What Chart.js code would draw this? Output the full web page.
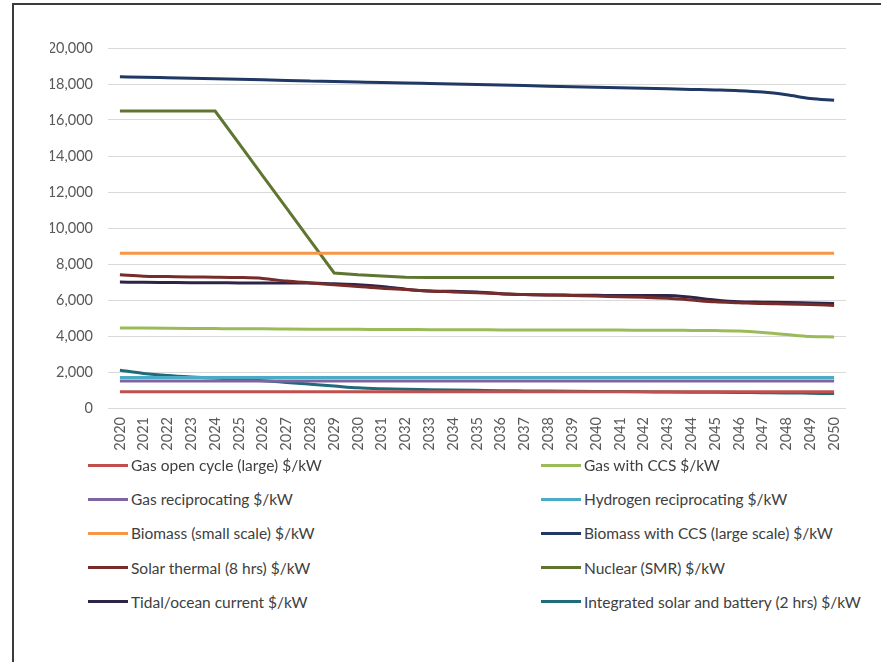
<!DOCTYPE html>
<html>
<head>
<meta charset="utf-8">
<script src="https://cdn.jsdelivr.net/npm/chart.js@4/dist/chart.umd.min.js"></script>
<style>
  html, body { margin: 0; padding: 0; background: #fff; }
  body { width: 881px; height: 662px; position: relative; overflow: hidden; font-family: Lato, "Open Sans", sans-serif; }
  .frame { position: absolute; left: 12px; top: 3px; width: 900px; height: 700px;
           border-left: 2px solid #3a3a3a; border-top: 2px solid #3a3a3a; box-sizing: border-box; }
  .wrap { position: absolute; left: 0; top: 0; width: 881px; height: 460px; }
  #legend { position: absolute; left: 88px; top: 456px; width: 790px; }
  .item { position: absolute; display: flex; align-items: center; font-size: 15.5px; color: #404040; white-space: nowrap; }
  .item .ln { width: 40px; height: 3px; margin-right: 3px; }
</style>
</head>
<body>
<div class="frame"></div>
<div class="wrap"><canvas id="c"></canvas></div>
<div id="legend"></div>
<script>
// Years on the category axis
const years = [];
for (let y = 2020; y <= 2050; y++) years.push(String(y));

// Capital cost by technology, $/kW
const gasOpenCycle = [900,900,900,900,900,900,900,900,900,900,900,900,900,900,900,900,900,900,900,900,900,900,900,900,900,900,900,900,900,900,900];
const gasWithCcs = [4450,4440,4430,4420,4410,4400,4400,4390,4380,4370,4370,4360,4360,4350,4350,4350,4340,4340,4340,4330,4330,4330,4320,4320,4310,4300,4280,4200,4080,3970,3950];
const gasRecip = [1500,1500,1500,1500,1500,1500,1500,1500,1500,1500,1500,1500,1500,1500,1500,1500,1500,1500,1500,1500,1500,1500,1500,1500,1500,1500,1500,1500,1500,1500,1500];
const hydrogenRecip = [1700,1700,1700,1700,1700,1700,1700,1700,1700,1700,1700,1700,1700,1700,1700,1700,1700,1700,1700,1700,1700,1700,1700,1700,1700,1700,1700,1700,1700,1700,1700];
const biomassSmall = [8600,8600,8600,8600,8600,8600,8600,8600,8600,8600,8600,8600,8600,8600,8600,8600,8600,8600,8600,8600,8600,8600,8600,8600,8600,8600,8600,8600,8600,8600,8600];
const biomassCcs = [18400,18380,18350,18320,18290,18260,18230,18200,18170,18140,18110,18080,18060,18030,18000,17970,17940,17910,17880,17850,17820,17790,17760,17730,17700,17670,17630,17550,17400,17200,17100];
const solarThermal = [7400,7320,7300,7280,7270,7250,7200,7050,6950,6850,6750,6650,6580,6500,6450,6400,6350,6300,6280,6250,6220,6180,6150,6100,6000,5900,5850,5800,5780,5750,5700];
const nuclearSmr = [16500,16500,16500,16500,16500,14700,12900,11100,9300,7500,7400,7330,7270,7250,7250,7250,7250,7250,7250,7250,7250,7250,7250,7250,7250,7250,7250,7250,7250,7250,7250];
const tidal = [7000,6980,6970,6960,6960,6950,6950,6950,6940,6900,6850,6750,6600,6500,6480,6450,6350,6300,6280,6270,6260,6250,6250,6250,6150,6000,5900,5880,5860,5830,5800];
const solarBattery = [2100,1920,1800,1720,1660,1600,1520,1420,1320,1220,1120,1070,1040,1020,1000,980,960,950,940,930,920,910,900,890,880,870,860,850,840,820,800];

const seriesNames = [
  'Gas open cycle (large) $/kW', 'Gas with CCS $/kW',
  'Gas reciprocating $/kW', 'Hydrogen reciprocating $/kW',
  'Biomass (small scale) $/kW', 'Biomass with CCS (large scale) $/kW',
  'Solar thermal (8 hrs) $/kW', 'Nuclear (SMR) $/kW',
  'Tidal/ocean current $/kW', 'Integrated solar and battery (2 hrs) $/kW'
];
const seriesValues = [gasOpenCycle, gasWithCcs, gasRecip, hydrogenRecip, biomassSmall,
  biomassCcs, solarThermal, nuclearSmr, tidal, solarBattery];
const seriesColors = ['#C0504D', '#9BBB59', '#8064A2', '#4BACC6', '#F79646',
  '#1F3864', '#772C2A', '#5F7530', '#2E2448', '#216A7A'];

const datasets = seriesNames.map((name, i) => ({
  label: name,
  data: seriesValues[i],
  borderColor: seriesColors[i],
  backgroundColor: seriesColors[i],
  borderWidth: 3,
  pointRadius: 0,
  // the nuclear series has straight segments with sharp bends
  cubicInterpolationMode: seriesValues[i] === nuclearSmr ? 'default' : 'monotone',
  tension: 0,
  fill: false
}));

const tickFont = { family: 'Lato, "Open Sans", sans-serif', size: 14.5 };

new Chart(document.getElementById('c'), {
  type: 'line',
  data: { labels: years, datasets },
  options: {
    responsive: true,
    maintainAspectRatio: false,
    animation: false,
    layout: { padding: { left: 50, right: 35, top: 48, bottom: 8 } },
    plugins: { legend: { display: false }, tooltip: { enabled: false } },
    scales: {
      x: {
        offset: true,
        grid: { display: false, drawTicks: false },
        border: { display: false },
        ticks: { color: '#595959', font: tickFont, minRotation: 90, maxRotation: 90, autoSkip: false, padding: 9 },
        afterFit: s => { s.height = 44; }
      },
      y: {
        min: 0, max: 20000,
        grid: { color: '#D9D9D9', drawTicks: false },
        border: { display: false },
        ticks: { stepSize: 2000, color: '#595959', font: tickFont, padding: 15,
                 callback: v => v.toLocaleString('en-US') },
        afterFit: s => { s.width = 58; }
      }
    }
  }
});

// Two-column legend built from the datasets
const legend = document.getElementById('legend');
datasets.forEach((d, i) => {
  const el = document.createElement('div');
  el.className = 'item';
  el.style.left = (i % 2 === 0 ? 0 : 453) + 'px';
  el.style.top = (Math.floor(i / 2) * 34.2) + 'px';
  el.innerHTML = '<span class="ln" style="background:' + d.borderColor + '"></span><span></span>';
  el.lastChild.textContent = d.label;
  legend.appendChild(el);
});
</script>
</body>
</html>
